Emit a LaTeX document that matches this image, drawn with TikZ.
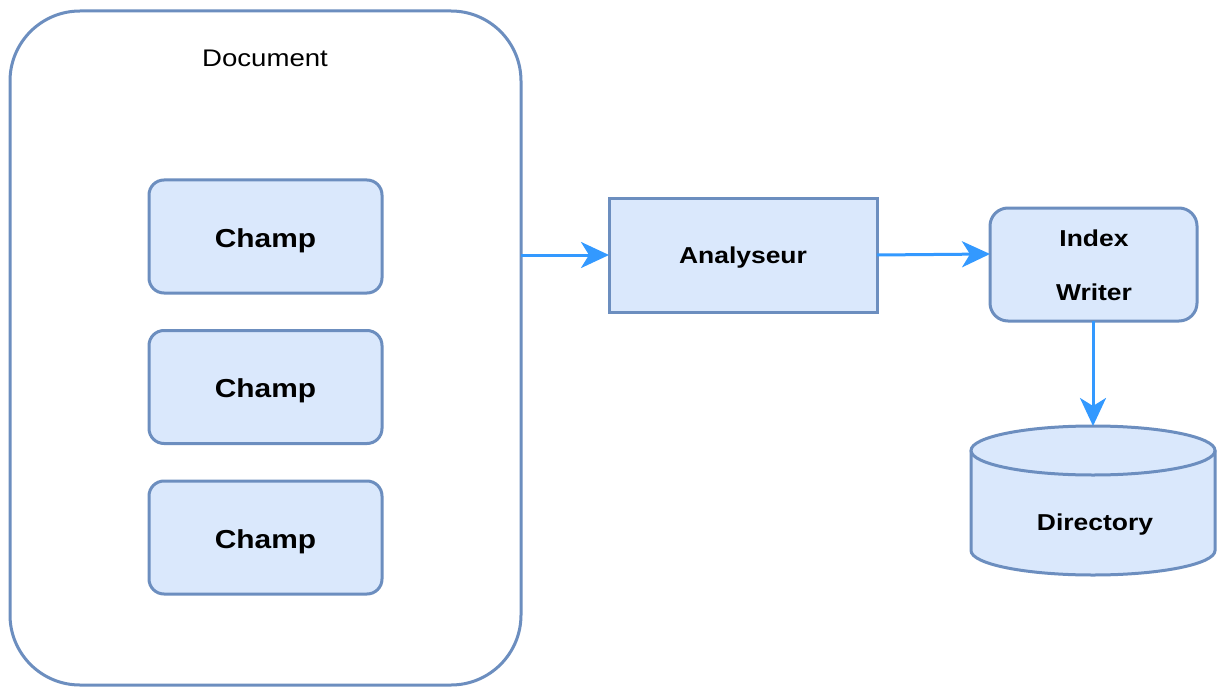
\documentclass[tikz,border=0pt]{standalone}
\usepackage{fontspec}
\newfontfamily\dfont[FakeStretch=1.15]{Liberation Sans}
\usetikzlibrary{arrows.meta}
\definecolor{boxline}{HTML}{6C8EBF}
\definecolor{boxfill}{HTML}{DAE8FC}
\definecolor{flow}{HTML}{3399FF}
\tikzset{
  box/.style={draw=boxline, fill=boxfill, line width=3pt, inner sep=0pt, outer sep=0pt},
  champbox/.style={box, rounded corners=15pt, minimum width=233pt, minimum height=113pt,
    font=\dfont\bfseries\fontsize{26}{30}\selectfont, text height=21pt, text depth=0pt},
  lbl/.style={anchor=base, inner sep=0pt, font=\dfont\bfseries\fontsize{23}{28}\selectfont},
  conn/.style={flow, line width=3pt, -{Stealth[length=28pt,width=26pt,inset=8pt]}}
}
\begin{document}
\begin{tikzpicture}[x=1pt,y=-1pt]
\useasboundingbox (0,0) rectangle (1217,687);
\fill[white] (0,0) rectangle (1217,687);

% container
\node[draw=boxline, fill=white, line width=3pt, rounded corners=70pt, inner sep=0pt, outer sep=0pt,
  minimum width=511pt, minimum height=674pt] (doc) at (265.5,348) {};
\node[anchor=base, inner sep=0pt, font=\dfont\fontsize{24}{28}\selectfont] (doclbl) at (265,67) {Document};

% fields
\node[champbox] (c1) at (265.5,236.5) {Champ};
\node[champbox] (c2) at (265.5,387) {Champ};
\node[champbox] (c3) at (265.5,537.5) {Champ};

% analyser
\node[box, minimum width=268pt, minimum height=114pt,
  font=\dfont\bfseries\fontsize{23}{28}\selectfont, text height=16pt, text depth=0pt] (an) at (743,255) {Analyseur};

% index writer
\node[box, rounded corners=18pt, minimum width=207pt, minimum height=113pt] (iw) at (1093.5,264.5) {};
\node[lbl] (iw1) at (1094,246) {Index};
\node[lbl] (iw2) at (1094,300) {Writer};

% directory (cylinder); the y axis points down, so angles run clockwise on the page
\fill[boxfill] (971,450.5) -- (971,550.5) arc[start angle=180, end angle=0, x radius=122, y radius=24.5]
  -- (1215,450.5) arc[start angle=0, end angle=-180, x radius=122, y radius=24.5] -- cycle;
\draw[boxline, line width=3pt] (971,450.5) -- (971,550.5) arc[start angle=180, end angle=0, x radius=122, y radius=24.5]
  -- (1215,450.5);
\draw[boxline, line width=3pt] (1093,450.5) ellipse [x radius=122, y radius=24.5];
\coordinate (dirtop) at (1093,426);
\node[lbl] (dirlbl) at (1095,530) {Directory};

% connectors
\draw[conn] (an.west -| doc.east) -- (an.west);
\draw[conn] (an.east) -- ([yshift=1pt]an.east -| iw.west);
\draw[conn] (iw.south -| dirtop) -- (dirtop);
\end{tikzpicture}
\end{document}
